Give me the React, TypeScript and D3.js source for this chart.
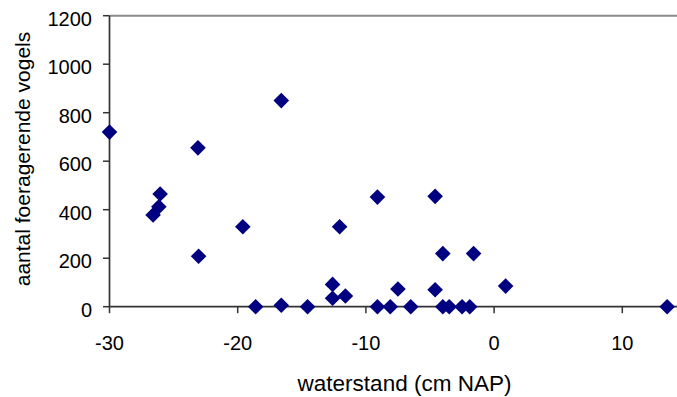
import React from "react";
import * as d3 from "d3";

const waterstand = [
  -30, -16.6, -23.1, -26.05, -26.15, -26.6, -23.05, -19.6, -18.6, -16.6, -14.55,
  -12.6, -12.6, -12.05, -11.6, -9.1, -4.6, -4.0, -1.6, -7.5, -4.6, 0.9,
  -9.1, -8.1, -6.5, -4.0, -3.5, -2.5, -1.9, 13.5,
];
const vogels = [
  720, 850, 655, 465, 412, 378, 208, 330, 0, 6, 0,
  92, 35, 330, 44, 452, 455, 219, 219, 73, 70, 85,
  0, 0, 0, 0, 0, 0, 0, 0,
];
const xTicks = [-30, -20, -10, 0, 10];
const yTicks = [0, 200, 400, 600, 800, 1000, 1200];
const xTitle = "waterstand (cm NAP)";
const yTitle = "aantal foeragerende vogels";

const W = 677;
const H = 397;
const FONT = "Liberation Sans, Arial, sans-serif";

export default function App() {
  const x = d3.scaleLinear().domain([-30, 10]).range([109.5, 622.3]);
  const y = d3.scaleLinear().domain([0, 1200]).range([306.7, 15.7]);
  const x0 = x(-30);
  const y0 = y(0);
  const yTop = y(1200);
  const r = 7.8;
  const diamond = (cx: number, cy: number) =>
    `M${cx},${cy - r}L${cx + r},${cy}L${cx},${cy + r}L${cx - r},${cy}Z`;

  return (
    <svg
      width={W}
      height={H}
      style={{ position: "absolute", left: 0, top: 0, display: "block", background: "#fff" }}
      fontFamily={FONT}
    >
      {/* top border line */}
      <line x1={x0} x2={W} y1={yTop} y2={yTop} stroke="#8a8a8a" strokeWidth={2} />
      {/* y axis */}
      <line x1={x0} x2={x0} y1={yTop} y2={y0} stroke="#333" strokeWidth={1.7} />
      {yTicks.map((t) => (
        <g key={"y" + t}>
          <line x1={x0 - 6.5} x2={x0} y1={y(t)} y2={y(t)} stroke="#333" strokeWidth={1.5} />
          <text x={92} y={y(t) + 10} textAnchor="end" fontSize={20} fill="#000">
            {t}
          </text>
        </g>
      ))}
      {/* x axis */}
      <line x1={x0} x2={W} y1={y0} y2={y0} stroke="#333" strokeWidth={1.7} />
      {xTicks.map((t) => (
        <g key={"x" + t}>
          <line x1={x(t)} x2={x(t)} y1={y0} y2={y0 + 6.5} stroke="#333" strokeWidth={1.5} />
          <text x={x(t)} y={350} textAnchor="middle" fontSize={20} fill="#000">
            {t < 0 ? "-" + Math.abs(t) : String(t)}
          </text>
        </g>
      ))}
      {/* points */}
      {waterstand.map((v, i) => (
        <path key={"p" + i} d={diamond(x(v), y(vogels[i]))} fill="#000080" />
      ))}
      {/* titles */}
      <text x={404.5} y={390.5} textAnchor="middle" fontSize={22.5} fill="#000">
        {xTitle}
      </text>
      <text
        transform={`translate(29.5,159) rotate(-90)`}
        textAnchor="middle"
        fontSize={21}
        fill="#000"
      >
        {yTitle}
      </text>
    </svg>
  );
}
